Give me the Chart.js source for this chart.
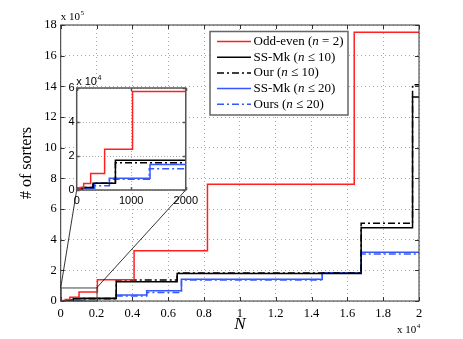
<!DOCTYPE html>
<html>
<head>
<meta charset="utf-8">
<script src="https://cdn.jsdelivr.net/npm/chart.js@4.4.1/dist/chart.umd.min.js"></script>
<style>
  body { margin: 0; background: #fff; }
  #wrap { position: relative; width: 463px; height: 339px; }
  #mainChart { position: absolute; left: 0; top: 0; }
  #insetChart { position: absolute; left: 56px; top: 72px; }
</style>
</head>
<body>
<div id="wrap">
  <canvas id="mainChart" width="463" height="339"></canvas>
  <canvas id="insetChart" width="146" height="138"></canvas>
</div>
<script>
// =======================
// DATA (N where a step starts, value held until the next N)
// =======================
const oddEvenN   = [0, 64, 128, 256, 512, 1024, 2048, 4096, 8192, 16384, 20000];
const oddEvenVal = [500, 1500, 3800, 9700, 24000, 58000, 139000, 328000, 762000, 1753000, 1753000];

const ssMk10N    = [0, 100, 300, 710, 3100, 6500, 16770, 19640, 20000];
const ssMk10Val  = [300, 1500, 3900, 17500, 126000, 180000, 478000, 1330000, 1330000];

const our10N     = [0, 100, 300, 710, 3100, 6500, 16770, 19640, 20000];
const our10Val   = [300, 1500, 3900, 16000, 137000, 182000, 507000, 1410000, 1410000];

const ssMk20N    = [0, 330, 600, 1345, 3100, 4800, 6740, 14600, 16770, 20000];
const ssMk20Val  = [1000, 3900, 6900, 15000, 39000, 67000, 142000, 185000, 318000, 318000];

const ours20N    = [0, 300, 600, 1330, 3100, 4800, 6740, 14600, 16770, 20000];
const ours20Val  = [1000, 2500, 6300, 12500, 33000, 55000, 137000, 185000, 307000, 307000];

const xTicksMain = [0, 2000, 4000, 6000, 8000, 10000, 12000, 14000, 16000, 18000, 20000];
const yTicksMain = [0, 2e5, 4e5, 6e5, 8e5, 10e5, 12e5, 14e5, 16e5, 18e5];

const legendRows = [
    [['Odd-even (', 'r'], ['n', 'i'], [' = 2)', 'r']],
    [['SS-Mk (', 'r'], ['n', 'i'], [' \u2264 10)', 'r']],
    [['Our (', 'r'], ['n', 'i'], [' \u2264 10)', 'r']],
    [['SS-Mk (', 'r'], ['n', 'i'], [' \u2264 20)', 'r']],
    [['Ours (', 'r'], ['n', 'i'], [' \u2264 20)', 'r']]
];

const RED = '#ff2020';
const BLUE = '#3557ff';
const DASHDOT = [7, 3, 2, 3];
const INSET_LEFT = 56, INSET_TOP = 72;
const SERIF = '"Liberation Serif", "DejaVu Serif", serif';
const SANS = '"Liberation Sans", sans-serif';

function pts(xs, ys) {
    return xs.map((x, i) => ({ x: x, y: ys[i] }));
}

function makeDatasets() {
    return [
        { data: pts(oddEvenN, oddEvenVal), borderColor: RED, borderWidth: 1.5 },
        { data: pts(ssMk10N, ssMk10Val), borderColor: '#000', borderWidth: 1.5 },
        { data: pts(our10N, our10Val), borderColor: '#000', borderWidth: 1.5, borderDash: DASHDOT },
        { data: pts(ssMk20N, ssMk20Val), borderColor: BLUE, borderWidth: 1.5 },
        { data: pts(ours20N, ours20Val), borderColor: BLUE, borderWidth: 1.5, borderDash: DASHDOT }
    ].map(d => Object.assign(d, { stepped: 'before', pointRadius: 0, fill: false }));
}

// inward tick marks + box, matlab style
function drawBox(chart, len, color, width) {
    const ctx = chart.ctx, a = chart.chartArea;
    const xs = chart.scales.x, ys = chart.scales.y;
    ctx.save();
    ctx.strokeStyle = color;
    ctx.lineWidth = width;
    ctx.beginPath();
    xs.ticks.forEach(t => {
        const px = Math.round(xs.getPixelForValue(t.value)) + 0.5;
        ctx.moveTo(px, a.bottom); ctx.lineTo(px, a.bottom - len);
        ctx.moveTo(px, a.top); ctx.lineTo(px, a.top + len);
    });
    ys.ticks.forEach(t => {
        const py = Math.round(ys.getPixelForValue(t.value)) + 0.5;
        ctx.moveTo(a.left, py); ctx.lineTo(a.left + len, py);
        ctx.moveTo(a.right, py); ctx.lineTo(a.right - len, py);
    });
    ctx.stroke();
    ctx.strokeRect(a.left, a.top, a.right - a.left, a.bottom - a.top);
    ctx.restore();
}

function drawExp(ctx, x, y, base, exp, size, family) {
    ctx.font = size + 'px ' + family;
    ctx.textAlign = 'left';
    ctx.textBaseline = 'alphabetic';
    ctx.fillText(base, x, y);
    const w = ctx.measureText(base).width;
    ctx.font = Math.round(size * 0.65) + 'px ' + family;
    ctx.fillText(exp, x + w + 0.5, y - size * 0.45);
}

// =======================
// INSET CHART
// =======================
const insetPlugin = {
    id: 'insetDeco',
    beforeDraw(chart) {
        const a = chart.chartArea, ctx = chart.ctx;
        ctx.save();
        ctx.fillStyle = '#fff';
        ctx.fillRect(a.left, a.top, a.right - a.left, a.bottom - a.top);
        ctx.restore();
    },
    afterDraw(chart) {
        drawBox(chart, 3, '#555', 1.5);
        const ctx = chart.ctx, a = chart.chartArea;
        ctx.save();
        ctx.fillStyle = '#000';
        drawExp(ctx, a.left - 0.5, a.top - 3, 'x 10', '4', 11, SANS);
        ctx.restore();
    }
};

const insetChart = new Chart(document.getElementById('insetChart'), {
    type: 'line',
    data: { datasets: makeDatasets() },
    options: {
        animation: false,
        responsive: false,
        layout: { padding: { top: 16, right: 4, left: 0, bottom: 0 } },
        plugins: { legend: { display: false }, tooltip: { enabled: false } },
        scales: {
            x: {
                type: 'linear', min: 0, max: 2000,
                ticks: { stepSize: 1000, color: '#000', padding: 4, maxRotation: 0,
                    callback: v => String(v),
                    font: { family: SANS, size: 11 } },
                grid: { color: '#aaa', drawTicks: false },
                border: { display: false, dash: [1, 2] },
                afterFit(s) { s.height = 20; }
            },
            y: {
                min: 0, max: 60000,
                ticks: { stepSize: 20000, color: '#000', padding: 2,
                    callback: v => v / 1e4,
                    font: { family: SANS, size: 11 } },
                grid: { color: '#aaa', drawTicks: false },
                border: { display: false, dash: [1, 2] },
                afterFit(s) { s.width = 20.7; }
            }
        }
    },
    plugins: [insetPlugin]
});

// =======================
// MAIN CHART
// =======================
const mainPlugin = {
    id: 'mainDeco',
    afterDraw(chart) {
        const ctx = chart.ctx, a = chart.chartArea;
        const xs = chart.scales.x, ys = chart.scales.y;
        drawBox(chart, 4, '#333', 1);

        // zoom rectangle and lines to the inset
        const x0 = xs.getPixelForValue(0), x1 = xs.getPixelForValue(2000);
        const yTop = ys.getPixelForValue(85000), yBot = ys.getPixelForValue(0);
        const ia = insetChart.chartArea;
        ctx.save();
        ctx.strokeStyle = '#444';
        ctx.lineWidth = 1;
        ctx.strokeRect(x0 + 0.5, yTop, x1 - x0, yBot - yTop);
        ctx.strokeStyle = '#000';
        ctx.lineWidth = 0.8;
        ctx.beginPath();
        ctx.moveTo(x0, yTop); ctx.lineTo(INSET_LEFT + ia.left, INSET_TOP + ia.bottom);
        ctx.moveTo(x1, yTop); ctx.lineTo(INSET_LEFT + ia.right, INSET_TOP + ia.bottom);
        ctx.stroke();
        ctx.restore();

        // axis titles and exponents
        ctx.save();
        ctx.fillStyle = '#000';
        ctx.font = '16px ' + SERIF;
        ctx.textAlign = 'center';
        ctx.textBaseline = 'middle';
        ctx.translate(27, (a.top + a.bottom) / 2);
        ctx.rotate(-Math.PI / 2);
        ctx.fillText('# of sorters', 0, 0);
        ctx.restore();

        ctx.save();
        ctx.fillStyle = '#000';
        ctx.font = 'italic 17px ' + SERIF;
        ctx.textAlign = 'center';
        ctx.textBaseline = 'middle';
        ctx.fillText('N', (a.left + a.right) / 2, 325);
        drawExp(ctx, a.left, 20, 'x 10', '5', 11, SERIF);
        drawExp(ctx, a.right - 22, 333, 'x 10', '4', 11, SERIF);
        ctx.restore();

        // legend
        const lx = 210, ly = 31.5, lw = 138, lh = 83.5;
        ctx.save();
        ctx.fillStyle = '#fff';
        ctx.fillRect(lx, ly, lw, lh);
        ctx.strokeStyle = '#666';
        ctx.lineWidth = 1.5;
        ctx.strokeRect(lx, ly, lw, lh);
        chart.data.datasets.forEach((ds, i) => {
            const y = 41.5 + i * 15.7;
            ctx.strokeStyle = ds.borderColor;
            ctx.lineWidth = ds.borderWidth;
            ctx.setLineDash(ds.borderDash || []);
            ctx.beginPath();
            ctx.moveTo(217, y); ctx.lineTo(251, y);
            ctx.stroke();
            ctx.setLineDash([]);
            let tx = 253.5;
            ctx.fillStyle = '#000';
            ctx.textAlign = 'left';
            ctx.textBaseline = 'middle';
            legendRows[i].forEach(seg => {
                ctx.font = (seg[1] === 'i' ? 'italic ' : '') + '13px ' + SERIF;
                ctx.fillText(seg[0], tx, y);
                tx += ctx.measureText(seg[0]).width;
            });
        });
        ctx.restore();
    }
};

const mainChart = new Chart(document.getElementById('mainChart'), {
    type: 'line',
    data: { datasets: makeDatasets() },
    options: {
        animation: false,
        responsive: false,
        layout: { padding: { top: 25, right: 44, left: 0, bottom: 0 } },
        plugins: { legend: { display: false }, tooltip: { enabled: false } },
        scales: {
            x: {
                type: 'linear', min: 0, max: 20000,
                afterBuildTicks(s) { s.ticks = xTicksMain.map(v => ({ value: v })); },
                ticks: { color: '#000', padding: 5, maxRotation: 0, autoSkip: false,
                    callback: v => Math.round(v / 1000) / 10,
                    font: { family: SERIF, size: 12.5 } },
                grid: { color: '#a8a8a8', drawTicks: false },
                border: { display: false, dash: [1, 3] },
                afterFit(s) { s.height = 38; }
            },
            y: {
                min: 0, max: 1800000,
                afterBuildTicks(s) { s.ticks = yTicksMain.map(v => ({ value: v })); },
                ticks: { color: '#000', padding: 4, autoSkip: false,
                    callback: v => Math.round(v / 1e5),
                    font: { family: SERIF, size: 12.5 } },
                grid: { color: '#a8a8a8', drawTicks: false },
                border: { display: false, dash: [1, 3] },
                afterFit(s) { s.width = 60.7; }
            }
        }
    },
    plugins: [mainPlugin]
});
</script>
</body>
</html>
